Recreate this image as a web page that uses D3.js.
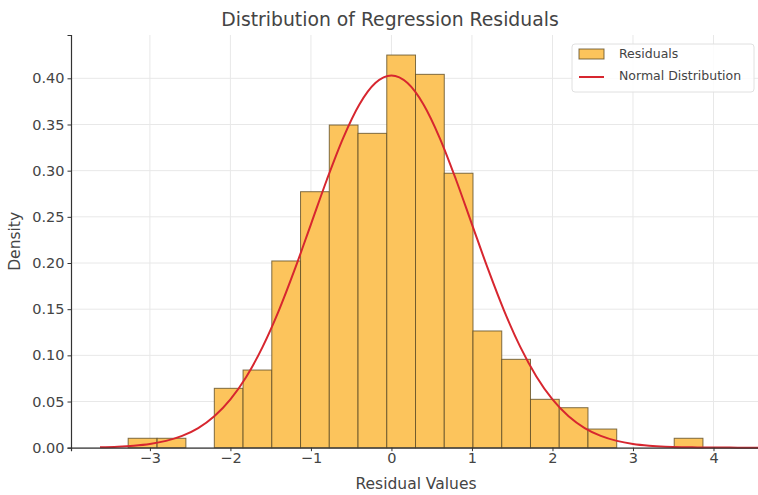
<!DOCTYPE html>
<html>
<head>
<meta charset="utf-8">
<script src="https://cdn.jsdelivr.net/npm/d3@7"></script>
<style>
  html, body { margin: 0; padding: 0; background: #fff; }
  svg { display: block; font-family: "DejaVu Sans", sans-serif; }
</style>
</head>
<body>
<svg id="chart" width="758" height="495"></svg>
<script>
// ---- data ----
const binWidth = 0.357;
// histogram bins: left edge and density
const binEdges = [-3.27, -2.91, -2.20, -1.843, -1.486, -1.129, -0.772, -0.415, -0.058, 0.299, 0.656, 1.013, 1.370, 1.727, 2.084, 2.441, 2.798, 3.155, 3.512];
const binDensity = [0.0102, 0.0102, 0.0643, 0.0841, 0.2022, 0.2772, 0.3494, 0.3404, 0.4252, 0.4043, 0.2972, 0.1264, 0.0957, 0.0524, 0.0433, 0.0202, 0, 0, 0.0102];
// normal curve points
const curveX = [-3.62, -3.4, -3.2, -3.0, -2.8, -2.6, -2.4, -2.2, -2.0, -1.8, -1.6, -1.4, -1.2, -1.0, -0.8, -0.6, -0.4, -0.2, 0.0, 0.2, 0.4, 0.6, 0.8, 1.0, 1.2, 1.4, 1.6, 1.8, 2.0, 2.2, 2.4, 2.6, 2.8, 3.0, 3.2, 3.4, 3.6, 3.8, 4.0, 4.2, 4.4, 4.6];
const curveY = [0.0005, 0.0011, 0.0022, 0.0041, 0.0074, 0.0128, 0.0213, 0.0341, 0.0523, 0.0772, 0.1092, 0.1482, 0.1933, 0.2419, 0.2907, 0.3353, 0.3714, 0.3948, 0.4030, 0.3948, 0.3714, 0.3353, 0.2907, 0.2419, 0.1933, 0.1482, 0.1092, 0.0772, 0.0523, 0.0341, 0.0213, 0.0128, 0.0074, 0.0041, 0.0022, 0.0011, 0.0005, 0.0003, 0.0001, 0.0001, 0.0000, 0.0000];
const xTicks = [-3, -2, -1, 0, 1, 2, 3, 4];
const yTicks = [0.00, 0.05, 0.10, 0.15, 0.20, 0.25, 0.30, 0.35, 0.40];
const titleText = "Distribution of Regression Residuals";
const xLabel = "Residual Values";
const yLabel = "Density";
const legendLabels = ["Residuals", "Normal Distribution"];

// ---- layout ----
const svg = d3.select("#chart");
const pL = 71, pR = 761, pT = 35, pB = 447.7;
const x = d3.scaleLinear().domain([-3.98, 4.59]).range([pL, pR]);
const y = d3.scaleLinear().domain([0, 0.4469]).range([pB, pT]);

const barFill = "#fcc45c";
const barStroke = "#5e4c26";
const lineColor = "#d7262f";
const textColor = "#444";

// grid
const grid = svg.append("g");
grid.selectAll("line.gx").data(xTicks).join("line").attr("class", "gx")
  .attr("x1", d => x(d)).attr("x2", d => x(d))
  .attr("y1", pT).attr("y2", pB)
  .attr("stroke", "#e8e8e8").attr("stroke-width", 1);
grid.selectAll("line.gy").data(yTicks).join("line").attr("class", "gy")
  .attr("x1", pL).attr("x2", pR)
  .attr("y1", d => y(d)).attr("y2", d => y(d))
  .attr("stroke", "#e8e8e8").attr("stroke-width", 1);

// bars
const bins = binEdges.map((e, i) => ({x0: e, x1: e + binWidth, d: binDensity[i]})).filter(b => b.d > 0);
svg.append("g").selectAll("rect").data(bins).join("rect")
  .attr("x", d => x(d.x0))
  .attr("width", d => x(d.x1) - x(d.x0))
  .attr("y", d => y(d.d))
  .attr("height", d => y(0) - y(d.d))
  .attr("fill", barFill)
  .attr("stroke", barStroke)
  .attr("stroke-opacity", 0.8)
  .attr("stroke-width", 1);

// normal curve
const line = d3.line().x((d, i) => x(curveX[i])).y(d => y(d)).curve(d3.curveMonotoneX);
svg.append("path").datum(curveY)
  .attr("d", line)
  .attr("fill", "none")
  .attr("stroke", lineColor)
  .attr("stroke-width", 2);

// axes
const xAxis = d3.axisBottom(x).tickValues(xTicks).tickSize(3.5).tickPadding(2)
  .tickFormat(d => d < 0 ? "\u2212" + Math.abs(d) : d);
const gx = svg.append("g").attr("transform", `translate(0,${pB})`).call(xAxis);
gx.select(".domain").attr("stroke", "#333").attr("stroke-width", 1.2);
gx.selectAll(".tick line").attr("stroke", "#333");
gx.selectAll(".tick text").attr("fill", textColor).attr("font-size", 14.5)
  .attr("font-family", "DejaVu Sans, sans-serif");

const yAxis = d3.axisLeft(y).tickValues(yTicks).tickSize(3.5).tickPadding(3)
  .tickFormat(d3.format(".2f"));
const gy = svg.append("g").attr("transform", `translate(${pL},0)`).call(yAxis);
gy.select(".domain").attr("stroke", "#333").attr("stroke-width", 1.2);
gy.selectAll(".tick line").attr("stroke", "#333");
gy.selectAll(".tick text").attr("fill", textColor).attr("font-size", 14.5)
  .attr("font-family", "DejaVu Sans, sans-serif");

// title & labels
svg.append("text").attr("x", 390).attr("y", 26).attr("text-anchor", "middle")
  .attr("font-size", 18.8).attr("fill", "#444").text(titleText);
svg.append("text").attr("x", (pL + pR) / 2).attr("y", 489).attr("text-anchor", "middle")
  .attr("font-size", 15.5).attr("fill", textColor).text(xLabel);
svg.append("text").attr("transform", `translate(20,${(pT + pB) / 2}) rotate(-90)`)
  .attr("text-anchor", "middle").attr("font-size", 15.5).attr("fill", textColor).text(yLabel);

// legend
const lg = svg.append("g");
lg.append("rect").attr("x", 572).attr("y", 44).attr("width", 182).attr("height", 48)
  .attr("rx", 3).attr("fill", "#fff").attr("fill-opacity", 0.85)
  .attr("stroke", "#e0e0e0");
lg.append("rect").attr("x", 579).attr("y", 49).attr("width", 25).attr("height", 10)
  .attr("fill", barFill).attr("stroke", barStroke).attr("stroke-opacity", 0.8);
lg.append("line").attr("x1", 579).attr("x2", 604).attr("y1", 77).attr("y2", 77)
  .attr("stroke", lineColor).attr("stroke-width", 2);
lg.selectAll("text.lt").data(legendLabels).join("text").attr("class", "lt")
  .attr("x", 619).attr("y", (d, i) => 58 + i * 22)
  .attr("font-size", 12.5).attr("fill", "#444").text(d => d);
</script>
</body>
</html>
